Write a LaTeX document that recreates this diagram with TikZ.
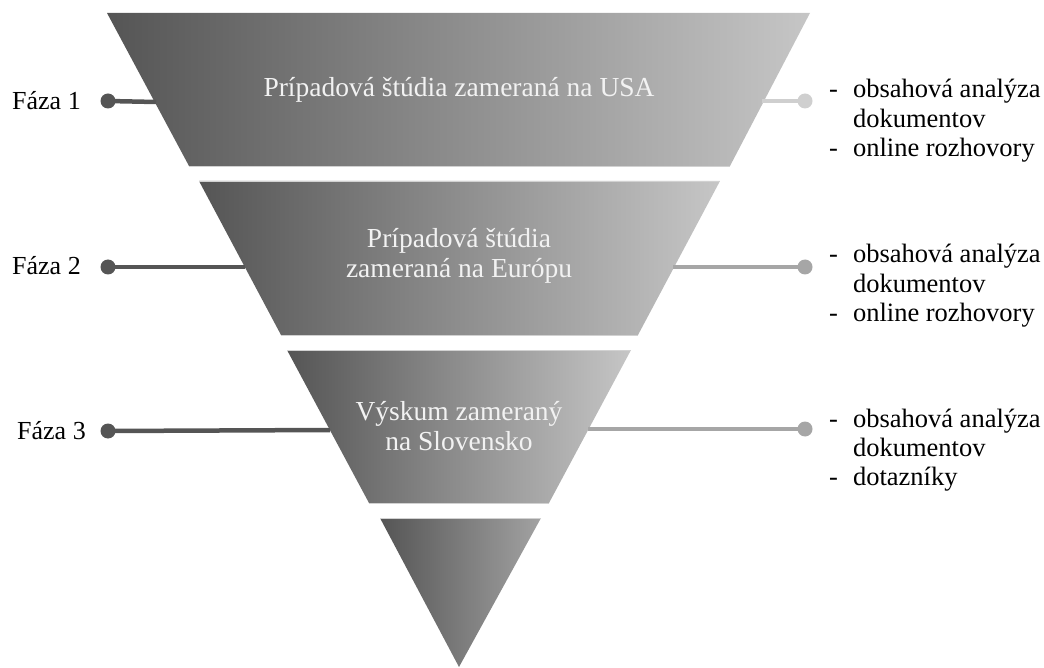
\documentclass[tikz,border=0pt]{standalone}
\usepackage{fontspec}
\setmainfont{Liberation Serif}
\definecolor{segdark}{HTML}{555555}
\definecolor{seglight}{HTML}{C6C6C6}
\definecolor{tiplight}{HTML}{A2A2A2}
\definecolor{lineleft}{HTML}{555555}
\definecolor{lineright}{HTML}{A6A6A6}
\definecolor{linefirst}{HTML}{CFCFCF}
\begin{document}
\begin{tikzpicture}[x=1pt,y=-1pt,
  segment/.style={left color=segdark,right color=#1},
  rim/.style={draw=white!82!black,line width=0.8pt},
  midtext/.style={text=white!95!black,align=center,inner sep=0pt,
    font=\fontsize{27.5}{30}\selectfont},
  phase/.style={text=black,inner sep=0pt,font=\fontsize{26}{30}\selectfont},
  methods/.style={text=black,inner sep=0pt,anchor=base west,
    font=\fontsize{26.5}{29.3}\selectfont},
  dot/.style={circle,fill=#1,inner sep=0pt,minimum size=15pt},
  link/.style={draw=#1,line width=4.5pt}]
\useasboundingbox (0,0) rectangle (1044,668);

% funnel segments
\shade[segment=seglight] (107,13) -- (810,13) -- (730,166) -- (189,166) -- cycle;
\shade[segment=seglight] (199,181) -- (720,181) -- (638,335) -- (281,335) -- cycle;
\shade[segment=seglight] (287,350) -- (631,350) -- (549,503) -- (369,503) -- cycle;
\shade[segment=tiplight] (380,518) -- (541,518) -- (459,667) -- cycle;
\draw[rim] (189,166) -- (730,166);
\draw[rim] (199,181) -- (720,181);
\draw[rim] (281,335) -- (638,335);
\draw[rim] (287,350) -- (631,350);
\draw[rim] (369,503) -- (549,503);
\draw[rim] (380,518) -- (541,518);

% anchor points on the segment edges
\coordinate (e1l) at (156,102);
\coordinate (e1r) at (762,101);
\coordinate (e2l) at (245,267);
\coordinate (e2r) at (673,267);
\coordinate (e3l) at (330,430);
\coordinate (e3r) at (588,429);

% segment captions (base = baseline of the last line)
\node[midtext,anchor=base] (t1) at (459,97) {Prípadová štúdia zameraná na USA};
\node[midtext,anchor=base] (t2) at (459,278) {Prípadová štúdia\\zameraná na Európu};
\node[midtext,anchor=base] (t3) at (459,450) {Výskum zameraný\\na Slovensko};

% phase markers on the left
\node[dot=lineleft] (d1l) at (108,101) {};
\node[dot=lineleft] (d2l) at (108,267) {};
\node[dot=lineleft] (d3l) at (108,431) {};
\draw[link=lineleft] (d1l.center) -- (e1l);
\draw[link=lineleft] (d2l.center) -- (e2l);
\draw[link=lineleft] (d3l.center) -- (e3l);
\node[phase,anchor=base west] (p1) at (12,110) {Fáza 1};
\node[phase,anchor=base west] (p2) at (12,275) {Fáza 2};
\node[phase,anchor=base west] (p3) at (17,439) {Fáza 3};

% method markers on the right
\draw[link=linefirst] (e1r) -- (805,101);
\node[dot=linefirst] (d1r) at (805,101) {};
\draw[link=lineright] (e2r) -- (805,267);
\node[dot=lineright] (d2r) at (805,267) {};
\draw[link=lineright] (e3r) -- (805,429);
\node[dot=lineright] (d3r) at (805,429) {};

\node[methods] (m1) at (829,98) {\begin{tabular}[t]{@{}l@{\hspace{15pt}}l@{}}-&obsahová analýza\\&dokumentov\\-&online rozhovory\end{tabular}};
\node[methods] (m2) at (829,263) {\begin{tabular}[t]{@{}l@{\hspace{15pt}}l@{}}-&obsahová analýza\\&dokumentov\\-&online rozhovory\end{tabular}};
\node[methods] (m3) at (829,427) {\begin{tabular}[t]{@{}l@{\hspace{15pt}}l@{}}-&obsahová analýza\\&dokumentov\\-&dotazníky\end{tabular}};
\end{tikzpicture}
\end{document}
